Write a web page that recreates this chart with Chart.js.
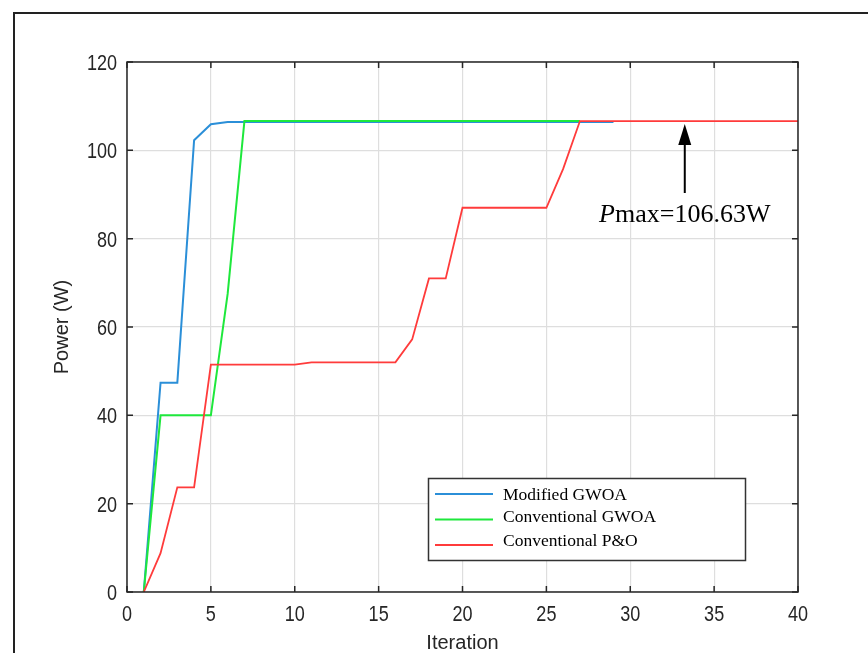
<!DOCTYPE html>
<html>
<head>
<meta charset="utf-8">
<title>MPPT power tracking</title>
<script src="https://cdn.jsdelivr.net/npm/chart.js@4.4.0/dist/chart.umd.min.js"></script>
<style>
    html, body { margin: 0; padding: 0; background: #fff; overflow: hidden; }
    #powerChart { display: block; }
</style>
</head>
<body>
<canvas id="powerChart" width="868" height="653"></canvas>
<script>
var iterations = [1, 2, 3, 4, 5, 6, 7, 8, 9, 10, 11, 12, 13, 14, 15, 16, 17, 18, 19, 20,
                  21, 22, 23, 24, 25, 26, 27, 28, 29, 30, 31, 32, 33, 34, 35, 36, 37, 38, 39, 40];

// power (W) per iteration, each series stops at its last iteration
var modifiedGwoa = [0, 47.4, 47.4, 102.3, 105.9, 106.4, 106.4, 106.4, 106.4, 106.4,
                    106.4, 106.4, 106.4, 106.4, 106.4, 106.4, 106.4, 106.4, 106.4, 106.4,
                    106.4, 106.4, 106.4, 106.4, 106.4, 106.4, 106.4, 106.4, 106.4];
var conventionalGwoa = [0, 40, 40, 40, 40, 67.5, 106.63, 106.63, 106.63, 106.63,
                        106.63, 106.63, 106.63, 106.63, 106.63, 106.63, 106.63, 106.63, 106.63, 106.63,
                        106.63, 106.63, 106.63, 106.63, 106.63, 106.63, 106.63];
var conventionalPO = [0, 8.8, 23.7, 23.7, 51.5, 51.5, 51.5, 51.5, 51.5, 51.5,
                      52, 52, 52, 52, 52, 52, 57.2, 71, 71, 87,
                      87, 87, 87, 87, 87, 95.8, 106.63, 106.63, 106.63, 106.63,
                      106.63, 106.63, 106.63, 106.63, 106.63, 106.63, 106.63, 106.63, 106.63, 106.63];

var seriesNames = ['Modified GWOA', 'Conventional GWOA', 'Conventional P&O'];
var seriesColors = ['#2b8fd8', '#1ee83c', '#ff3b3b'];

var xTicks = [0, 5, 10, 15, 20, 25, 30, 35, 40];
var yTicks = [0, 20, 40, 60, 80, 100, 120];

var pmax = 106.63;
var pmaxIteration = 33.25;

var labelFont = "'Liberation Sans', Arial, sans-serif";
var serifFont = "'Liberation Serif', 'Times New Roman', serif";

function toPoints(values) {
    return values.map(function(v, i) { return {x: iterations[i], y: v}; });
}

// tick label drawn a little condensed horizontally
function narrowText(ctx, text, x, y, align) {
    var squeeze = 0.82,
        w = ctx.measureText(text).width * squeeze,
        left = align === 'right' ? x - w : (align === 'center' ? x - w / 2 : x);
    ctx.save();
    ctx.translate(left, y);
    ctx.scale(squeeze, 1);
    ctx.textAlign = 'left';
    ctx.fillText(text, 0, 0);
    ctx.restore();
}

// box with inward ticks, tick labels, axis titles, legend and the Pmax arrow
var decorations = {
    id: 'decorations',
    beforeDraw: function(chart) {
        var ctx = chart.ctx;
        ctx.save();
        ctx.fillStyle = '#fff';
        ctx.fillRect(0, 0, chart.width, chart.height);
        ctx.strokeStyle = '#222';
        ctx.lineWidth = 2;
        ctx.strokeRect(14, 13, 1000, 1000);
        ctx.restore();
    },
    afterDraw: function(chart) {
        var ctx = chart.ctx,
            area = chart.chartArea,
            xs = chart.scales.x,
            ys = chart.scales.y;
        ctx.save();

        // axes box
        ctx.strokeStyle = '#262626';
        ctx.lineWidth = 1.5;
        ctx.strokeRect(area.left, area.top, area.right - area.left, area.bottom - area.top);

        ctx.beginPath();
        xs.ticks.forEach(function(t) {
            var px = xs.getPixelForValue(t.value);
            ctx.moveTo(px, area.bottom); ctx.lineTo(px, area.bottom - 6);
            ctx.moveTo(px, area.top); ctx.lineTo(px, area.top + 6);
        });
        ys.ticks.forEach(function(t) {
            var py = ys.getPixelForValue(t.value);
            ctx.moveTo(area.left, py); ctx.lineTo(area.left + 6, py);
            ctx.moveTo(area.right, py); ctx.lineTo(area.right - 6, py);
        });
        ctx.stroke();

        // tick labels
        ctx.fillStyle = '#262626';
        ctx.font = '22px ' + labelFont;
        ctx.textBaseline = 'alphabetic';
        xs.ticks.forEach(function(t) {
            narrowText(ctx, String(t.value), xs.getPixelForValue(t.value), area.bottom + 29, 'center');
        });
        ys.ticks.forEach(function(t) {
            narrowText(ctx, String(t.value), area.left - 10, ys.getPixelForValue(t.value) + 8, 'right');
        });

        // axis titles
        ctx.font = '20px ' + labelFont;
        ctx.textAlign = 'center';
        ctx.fillText('Iteration', (area.left + area.right) / 2, 649);
        ctx.save();
        ctx.translate(68, (area.top + area.bottom) / 2);
        ctx.rotate(-Math.PI / 2);
        ctx.fillText('Power (W)', 0, 0);
        ctx.restore();

        // legend
        var lx = 428.5, ly = 478.5, lw = 317, lh = 82;
        ctx.fillStyle = '#fff';
        ctx.fillRect(lx, ly, lw, lh);
        ctx.strokeStyle = '#333';
        ctx.lineWidth = 1.5;
        ctx.strokeRect(lx, ly, lw, lh);
        var lineYs = [494, 519.5, 545],
            textYs = [500, 521.5, 546];
        ctx.font = '17.5px ' + serifFont;
        ctx.textAlign = 'left';
        seriesNames.forEach(function(name, i) {
            ctx.strokeStyle = seriesColors[i];
            ctx.lineWidth = 2;
            ctx.beginPath();
            ctx.moveTo(435, lineYs[i]);
            ctx.lineTo(493, lineYs[i]);
            ctx.stroke();
            ctx.fillStyle = '#000';
            ctx.fillText(name, 503, textYs[i]);
        });

        // Pmax arrow and label
        var ax = xs.getPixelForValue(pmaxIteration),
            tipY = ys.getPixelForValue(pmax) + 3;
        ctx.strokeStyle = '#000';
        ctx.fillStyle = '#000';
        ctx.lineWidth = 2;
        ctx.beginPath();
        ctx.moveTo(ax, 193);
        ctx.lineTo(ax, tipY + 18);
        ctx.stroke();
        ctx.beginPath();
        ctx.moveTo(ax, tipY);
        ctx.lineTo(ax - 6.5, tipY + 21);
        ctx.lineTo(ax + 6.5, tipY + 21);
        ctx.closePath();
        ctx.fill();

        var italicPart = 'P', restPart = 'max=' + pmax.toFixed(2) + 'W';
        ctx.font = 'italic 26px ' + serifFont;
        var w1 = ctx.measureText(italicPart).width;
        ctx.font = '26px ' + serifFont;
        var w2 = ctx.measureText(restPart).width;
        var startX = ax - (w1 + w2) / 2;
        ctx.textAlign = 'left';
        ctx.font = 'italic 26px ' + serifFont;
        ctx.fillText(italicPart, startX, 222);
        ctx.font = '26px ' + serifFont;
        ctx.fillText(restPart, startX + w1, 222);

        ctx.restore();
    }
};

var datasets = [modifiedGwoa, conventionalGwoa, conventionalPO].map(function(values, i) {
    return {
        label: seriesNames[i],
        data: toPoints(values),
        borderColor: seriesColors[i],
        backgroundColor: seriesColors[i],
        borderWidth: i === 2 ? 1.8 : 2,
        pointRadius: 0,
        tension: 0,
        fill: false,
        // later series are painted over earlier ones
        order: 3 - i
    };
});

new Chart(document.getElementById('powerChart'), {
    type: 'line',
    data: {datasets: datasets},
    options: {
        responsive: false,
        animation: false,
        layout: {padding: {top: 62, right: 70, left: 0, bottom: 0}},
        plugins: {
            legend: {display: false},
            tooltip: {enabled: false}
        },
        scales: {
            x: {
                type: 'linear',
                min: 0,
                max: 40,
                afterFit: function(scale) { scale.height = 61; },
                afterBuildTicks: function(scale) {
                    scale.ticks = xTicks.map(function(v) { return {value: v}; });
                },
                grid: {color: '#dedede', lineWidth: 1.2, drawTicks: false},
                border: {display: false},
                ticks: {display: false}
            },
            y: {
                min: 0,
                max: 120,
                afterFit: function(scale) { scale.width = 127; },
                afterBuildTicks: function(scale) {
                    scale.ticks = yTicks.map(function(v) { return {value: v}; });
                },
                grid: {color: '#dedede', lineWidth: 1.2, drawTicks: false},
                border: {display: false},
                ticks: {display: false}
            }
        }
    },
    plugins: [decorations]
});
</script>
</body>
</html>
